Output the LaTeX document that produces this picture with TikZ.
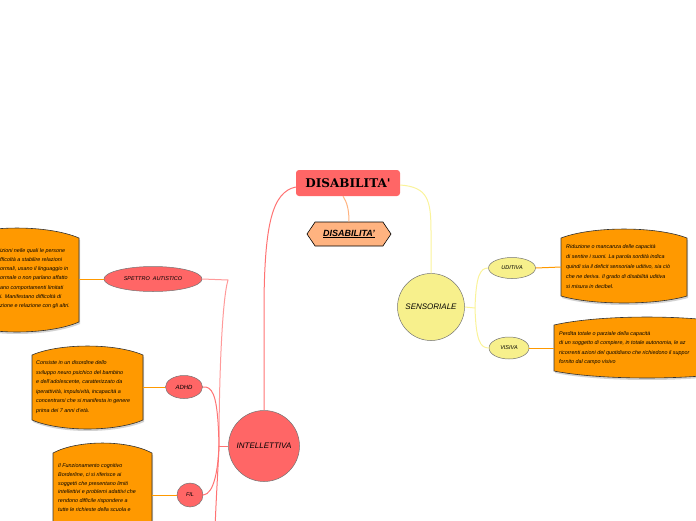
\documentclass[tikz,border=0pt]{standalone}
\usepackage{fontspec}
\setmainfont{Liberation Sans}
\newfontfamily\titlefont{DejaVu Serif}
\usetikzlibrary{shapes.geometric,shapes.symbols,calc}
\definecolor{redn}{HTML}{FF6666}
\definecolor{redl}{HTML}{FF7373}
\definecolor{redll}{HTML}{FF9A9A}
\definecolor{yel}{HTML}{F7F08C}
\definecolor{yell}{HTML}{FAF39A}
\definecolor{orng}{HTML}{FF9900}
\definecolor{peach}{HTML}{FFB380}
\newcommand\cylshape[6]{%
  \fill[black!35,opacity=.5] ({#1+1},{#3+2}) .. controls ({#1+(#2-#1)*0.25},{#3+2-#5*1.33}) and ({#1+(#2-#1)*0.75},{#3+2-#5*1.33}) .. ({#2+1},{#3+2})
     -- ({#2+1},{#4+2}) .. controls ({#1+(#2-#1)*0.75},{#4+2+#6*1.33}) and ({#1+(#2-#1)*0.25},{#4+2+#6*1.33}) .. ({#1+1},{#4+2}) -- cycle;
  \draw[boxshape] (#1,#3) .. controls ({#1+(#2-#1)*0.25},{#3-#5*1.33}) and ({#1+(#2-#1)*0.75},{#3-#5*1.33}) .. (#2,#3)
     -- (#2,#4) .. controls ({#1+(#2-#1)*0.75},{#4+#6*1.33}) and ({#1+(#2-#1)*0.25},{#4+#6*1.33}) .. (#1,#4) -- cycle;}
\tikzset{
  boxshape/.style={fill=orng,draw=black!80,line width=0.6pt},
  mainbox/.style={rectangle,rounded corners=3pt,fill=redn,minimum width=104pt,minimum height=26pt,inner sep=0pt,
     font=\titlefont\bfseries\fontsize{12}{12}\selectfont},
  hexnode/.style={signal,signal to=west and east,signal pointer angle=112,fill=peach,draw=black,line width=0.6pt,
     minimum width=84pt,minimum height=24pt,inner sep=0pt,font=\bfseries\itshape\fontsize{9}{9}\selectfont},
  bigcirc/.style={circle,draw=black!55,line width=0.5pt,inner sep=0pt,font=\itshape\fontsize{8}{8}\selectfont},
  subell/.style={ellipse,draw=black!55,line width=0.5pt,inner sep=0pt,font=\itshape\fontsize{5.5}{5.5}\selectfont},
  bodytext/.style={anchor=west,align=left,inner sep=0pt,font=\itshape\fontsize{5.4}{#1}\selectfont},
  rline/.style={draw=redl,line width=1pt},
  rlinel/.style={draw=redll,line width=1pt},
  yline/.style={draw=yell,line width=1pt},
  oline/.style={draw=orng,line width=1pt},
  pline/.style={draw=peach,line width=1pt}
}
\begin{document}
\begin{tikzpicture}[x=1pt,y=-1pt]
\useasboundingbox (0,0) rectangle (696,520);
\clip (0,0) rectangle (696,520);

% text boxes
\cylshape{561}{687}{238}{296}{9}{7}
\cylshape{554}{740}{325}{371}{8}{7}
\cylshape{-45}{79}{238}{322}{10}{10}
\cylshape{32}{143}{355}{420}{9}{9}
\cylshape{53}{152}{453}{560}{10}{10}

% main nodes
\node[mainbox] (root) at (348,183) {DISABILITA'};
\node[hexnode] (hex) at (349,234) {\underline{DISABILITA'}};
\node[bigcirc,fill=yel,minimum size=67pt] (sens) at (431,307) {SENSORIALE};
\node[bigcirc,fill=redn,minimum size=71pt] (intel) at (264,446) {INTELLETTIVA};
\node[subell,fill=yel,minimum width=47pt,minimum height=21pt] (udit) at (512,268) {UDITIVA};
\node[subell,fill=yel,minimum width=40pt,minimum height=22pt] (visiva) at (509,348) {VISIVA};
\node[subell,fill=redn,minimum width=98pt,minimum height=25pt] (spettro) at (153,279) {SPETTRO\ \ AUTISTICO};
\node[subell,fill=redn,minimum width=37pt,minimum height=23pt,font=\itshape\fontsize{6}{6}\selectfont] (adhd) at (184,387) {ADHD};
\node[subell,fill=redn,minimum width=26pt,minimum height=24pt] (fil) at (190,495) {FIL};

% body texts
\node[bodytext=10] (udtxt) at (566,267) {Riduzione o mancanza delle capacità\\di sentire i suoni. La parola sordità indica\\quindi sia il deficit sensoriale uditivo, sia ciò\\che ne deriva. Il grado di disabilità uditiva\\si misura in decibel.};
\node[bodytext=9.2] (vistxt) at (559,348) {Perdita totale o parziale della capacità\\di un soggetto di compiere, in totale autonomia, le az\\ricorrenti azioni del quotidiano che richiedono il suppor\\fornito dal campo visivo};
\node[bodytext=9.2] (sptxt) at (0,278.5) {izioni nelle quali le persone\\fficoltà a stabilire relazioni\\ormali, usano il linguaggio in\\ormale o non parlano affatto\\ano comportamenti limitati\\i. Manifestano difficoltà di\\zione e relazione con gli altri.};
\node[bodytext=9.5] (adtxt) at (36,387) {Consiste in un disordine dello\\sviluppo neuro psichico del bambino\\e dell'adolescente, caratterizzato da\\iperattività, impulsività, incapacità a\\concentrarsi che si manifesta in genere\\prima dei 7 anni d'età.};
\node[bodytext=8.7] (filtxt) at (58,487.5) {Il Funzionamento cognitivo\\Borderline, ci si riferisce ai\\soggetti che presentano limiti\\intellettivi e problemi adattivi che\\rendono difficile rispondere a\\tutte le richieste della scuola e};

% connector ends
\coordinate (udbox) at (561,267);
\coordinate (visbox) at (554,348);
\coordinate (spbox) at (79,279);
\coordinate (adbox) at (143,387);
\coordinate (filbox) at (152,495);
\coordinate (ib) at (219,446);
\coordinate (sb) at (475,308);
\coordinate (spk) at (228,280);
\coordinate (bottomc) at (215,530);

% connectors
\draw[pline] ($(root.south)+(-5,0)$) .. controls +(4,6) and +(0,-12) .. (hex.north);
\draw[yline] ($(root.east)+(0,2)$) .. controls (428,187) and (431,200) .. (431,232) -- (sens.north);
\draw[rline] ($(root.west)+(0,4)$) .. controls (272,192) and (265,225) .. (264,300) -- (intel.north);
\draw[rline] (intel.west) -- (ib);
\draw[rlinel] (spettro.east) -- (spk) .. controls (222,300) and (219,380) .. (ib);
\draw[rline] (adhd.east) -- (206,387) .. controls (214,389) and (218,400) .. (ib);
\draw[rline] (fil.east) .. controls (214,494) and (218,470) .. (ib);
\draw[rline] (ib) .. controls (218,470) and (216,500) .. (bottomc);
\draw[yline] (sens.east) -- (sb);
\draw[yline] (sb) .. controls (476,276) and (480,268) .. (udit.west);
\draw[yline] (sb) .. controls (476,340) and (480,348) .. (visiva.west);
\draw[oline] (udit.east) -- (udbox);
\draw[oline] (visiva.east) -- (visbox);
\draw[oline] (spettro.west) -- (spbox);
\draw[oline] (adhd.west) -- (adbox);
\draw[oline] (fil.west) -- (filbox);
\end{tikzpicture}
\end{document}
